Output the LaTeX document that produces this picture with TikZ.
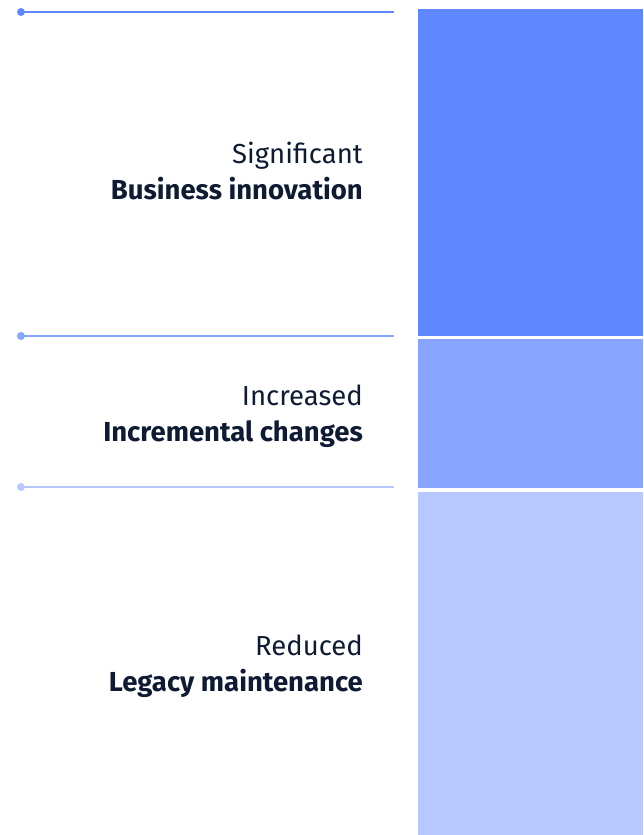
\documentclass[tikz,border=0pt]{standalone}
\usepackage{fontspec}
\setmainfont{Fira Sans}
\usetikzlibrary{positioning}
\definecolor{barA}{HTML}{5F87FF}
\definecolor{barB}{HTML}{87A5FF}
\definecolor{barC}{HTML}{B7C8FF}
\definecolor{ink}{HTML}{0E1B33}

\begin{document}
\begin{tikzpicture}[x=1pt, y=-1pt,
          bar/.style = {fill=#1, draw=none, inner sep=0pt,
                        anchor=north west, minimum width=225pt},
          dot/.style = {circle, fill=#1, minimum size=8pt, inner sep=0pt},
        level/.style = {anchor=base east, inner sep=0pt, text=ink,
                        font=\fontsize{27.5}{30}\selectfont},
        title/.style = {level, font=\fontsize{27.5}{30}\selectfont\bfseries}
                        ]
\useasboundingbox (0,0) rectangle (643,835);
% Draw the three stacked bars
\node[bar=barA, minimum height=327pt] (B-1) at (418,9)   {};
\node[bar=barB, minimum height=149pt] (B-2) at (418,339) {};
\node[bar=barC, minimum height=343pt] (B-3) at (418,492) {};
% Draw the divider lines with their dots
\foreach \i/\y/\c/\w in {1/12/barA/2pt, 2/336/barB/2pt, 3/487/barC/1.6pt}
{
    \node[dot=\c] (D-\i) at (21,\y) {};
    \coordinate (L-\i) at (394,\y);
    \draw[\c, line width=\w] (D-\i.center) -- (L-\i);
}
% Draw the labels
\node[level] (S-1) at (363,163) {Significant};
\node[title] (T-1) at (363,199) {Business innovation};
\node[level] (S-2) at (363,405) {Increased};
\node[title] (T-2) at (363,441) {Incremental changes};
\node[level] (S-3) at (363,655) {Reduced};
\node[title] (T-3) at (363,691) {Legacy maintenance};
\end{tikzpicture}
\end{document}
